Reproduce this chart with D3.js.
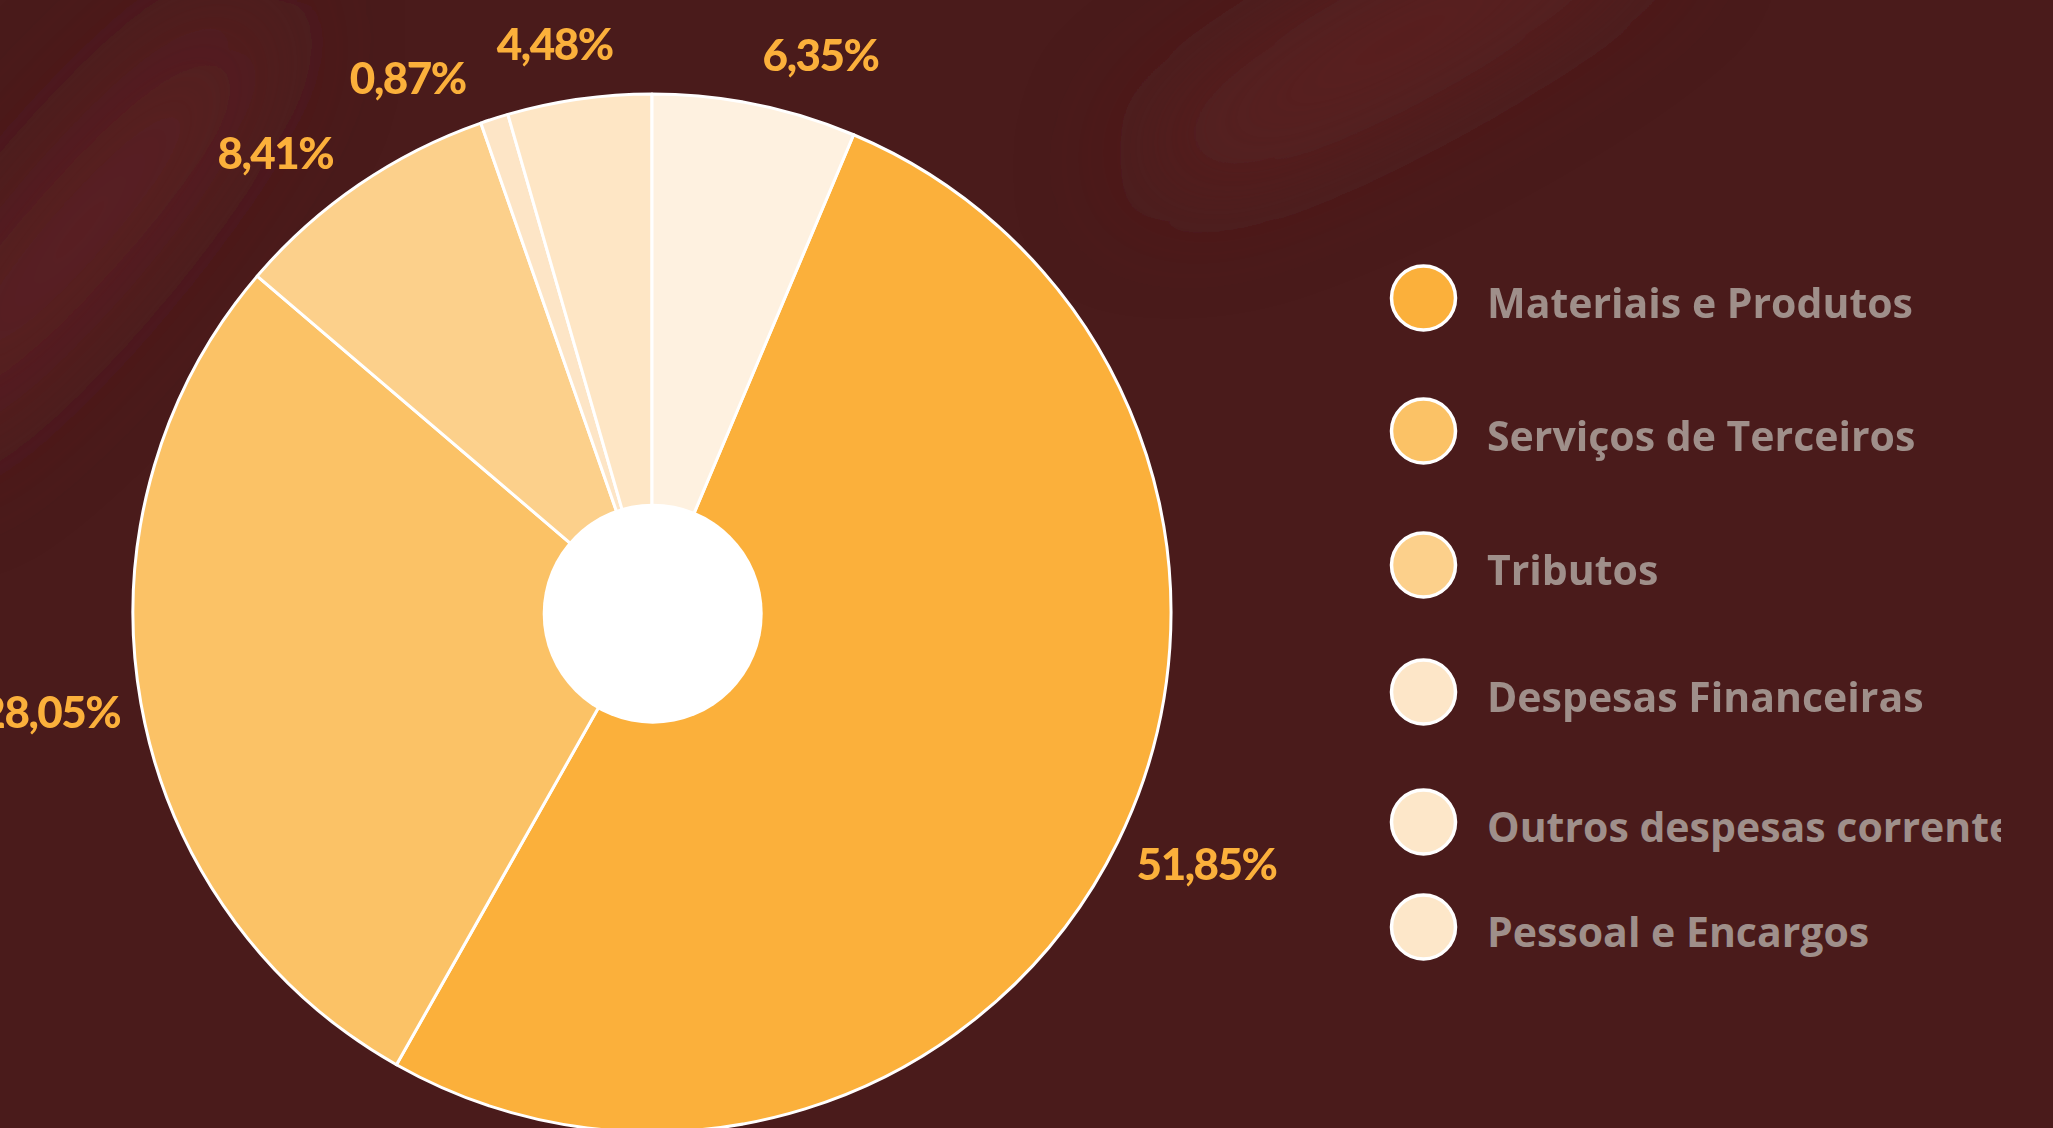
<!DOCTYPE html>
<html>
<head>
<meta charset="utf-8">
<script src="https://cdn.jsdelivr.net/npm/d3@7"></script>
<style>
  html, body { margin: 0; padding: 0; background: #4a1b1b; overflow: hidden; }
  svg { display: block; }
</style>
</head>
<body>
<svg id="chart" width="2053" height="1128"></svg>
<script>
// ---- data ----
const categories = [
  "Materiais e Produtos",
  "Serviços de Terceiros",
  "Tributos",
  "Despesas Financeiras",
  "Outros despesas correntes",
  "Pessoal e Encargos"
];
const shares = [51.85, 28.05, 8.41, 0.87, 4.48, 6.35];
const sliceColors  = ["#fbb03b", "#fbc266", "#fcd08b", "#fde5c6", "#fee6c5", "#fef1e0"];
const legendColors = ["#fbb03b", "#fbc266", "#fcd08b", "#fde6c8", "#fde7c9", "#fde7c9"];

// ---- layout ----
const W = 2053, H = 1128;
const cx = 652, cy = 613, R = 519, holeR = 110;
const labelRadius = 540, labelLift = 30, labelMinGap = 16; // gap in degrees
const legendX = 1423.5, legendR = 32, legendTextX = 1487, legendClipX = 2001;
const legendRowY = [298, 431, 565, 692, 822, 927];

const ptBR = d3.formatLocale({ decimal: ",", thousands: ".", grouping: [3], currency: ["R$", ""] });
const fmtPct = v => ptBR.format(".2f")(v) + "%";

const svg = d3.select("#chart");
const defs = svg.append("defs");

// background with soft diagonal light streaks
svg.append("rect").attr("width", W).attr("height", H).attr("fill", "#4a1b1b");
defs.append("filter").attr("id", "soft").attr("x", "-50%").attr("y", "-50%").attr("width", "200%").attr("height", "200%")
  .append("feGaussianBlur").attr("stdDeviation", 60);
const glow = svg.append("g").attr("filter", "url(#soft)");
glow.append("ellipse").attr("cx", 80).attr("cy", 230).attr("rx", 300).attr("ry", 60)
  .attr("transform", "rotate(-50 80 230)").attr("fill", "#672527").attr("opacity", 0.7);
glow.append("ellipse").attr("cx", 1400).attr("cy", 40).attr("rx", 300).attr("ry", 50)
  .attr("transform", "rotate(-28 1400 40)").attr("fill", "#6a2628").attr("opacity", 0.75);

// ---- pie ----
const total = d3.sum(shares);
const start = 2 * Math.PI * shares[shares.length - 1] / total;
const pie = d3.pie().sort(null).value(d => d).startAngle(start).endAngle(start + 2 * Math.PI);
const arcs = pie(shares);
const arc = d3.arc().innerRadius(0).outerRadius(R);

const g = svg.append("g").attr("transform", `translate(${cx},${cy})`);
g.selectAll("path.slice").data(arcs).join("path")
  .attr("class", "slice")
  .attr("d", arc)
  .attr("fill", (d, i) => sliceColors[i])
  .attr("stroke", "#ffffff")
  .attr("stroke-width", 3)
  .attr("stroke-linejoin", "round");

g.append("circle").attr("cx", 0.7).attr("cy", 0.7).attr("r", holeR).attr("fill", "#ffffff");

// ---- value labels ----
const norm = a => { let d = a * 180 / Math.PI % 360; if (d > 180) d -= 360; return d; };
const items = arcs.map((a, i) => ({ i, want: norm((a.startAngle + a.endAngle) / 2) }))
  .sort((a, b) => a.want - b.want);

// keep neighbouring labels at least labelMinGap degrees apart (pool adjacent violators)
function spread(desired, gap) {
  const blocks = [];
  desired.forEach((d, i) => {
    blocks.push({ sum: d - i * gap, n: 1 });
    while (blocks.length > 1) {
      const b = blocks[blocks.length - 1], p = blocks[blocks.length - 2];
      if (p.sum / p.n > b.sum / b.n) { p.sum += b.sum; p.n += b.n; blocks.pop(); } else break;
    }
  });
  const out = []; let k = 0;
  blocks.forEach(b => { for (let j = 0; j < b.n; j++) { out.push(b.sum / b.n + k * gap); k++; } });
  return out;
}
const placed = spread(items.map(d => d.want), labelMinGap);
items.forEach((d, k) => d.angle = placed[k] * Math.PI / 180);

// right-hand labels start at the orbit point, left-hand labels end there
g.selectAll("text.val").data(items).join("text")
  .attr("class", "val")
  .attr("text-anchor", d => Math.sin(d.angle) >= 0 ? "start" : "end")
  .attr("x", d => labelRadius * Math.sin(d.angle))
  .attr("y", d => -(labelRadius + labelLift) * Math.cos(d.angle))
  .attr("dy", "0.36em")
  .style("font-family", "Lato, 'Open Sans', sans-serif")
  .style("font-weight", 900)
  .style("font-size", "44px")
  .style("letter-spacing", "-1.5px")
  .attr("fill", "#fbb03b")
  .text(d => fmtPct(shares[d.i]));

// ---- legend ----
defs.append("clipPath").attr("id", "legendClip")
  .append("rect").attr("x", 1300).attr("y", 0).attr("width", legendClipX - 1300).attr("height", H);
const legend = svg.append("g").attr("clip-path", "url(#legendClip)");
const rows = legend.selectAll("g.row").data(categories).join("g")
  .attr("class", "row")
  .attr("transform", (d, i) => `translate(0,${legendRowY[i]})`);
rows.append("circle")
  .attr("cx", legendX).attr("r", legendR)
  .attr("fill", (d, i) => legendColors[i])
  .attr("stroke", "#ffffff").attr("stroke-width", 3.5);
rows.append("text")
  .attr("x", legendTextX).attr("y", 20)
  .style("font-family", "'Open Sans', Lato, sans-serif")
  .style("font-weight", 700)
  .style("font-size", "41px")
  .attr("fill", "#9f8f8a")
  .text(d => d);
</script>
</body>
</html>
